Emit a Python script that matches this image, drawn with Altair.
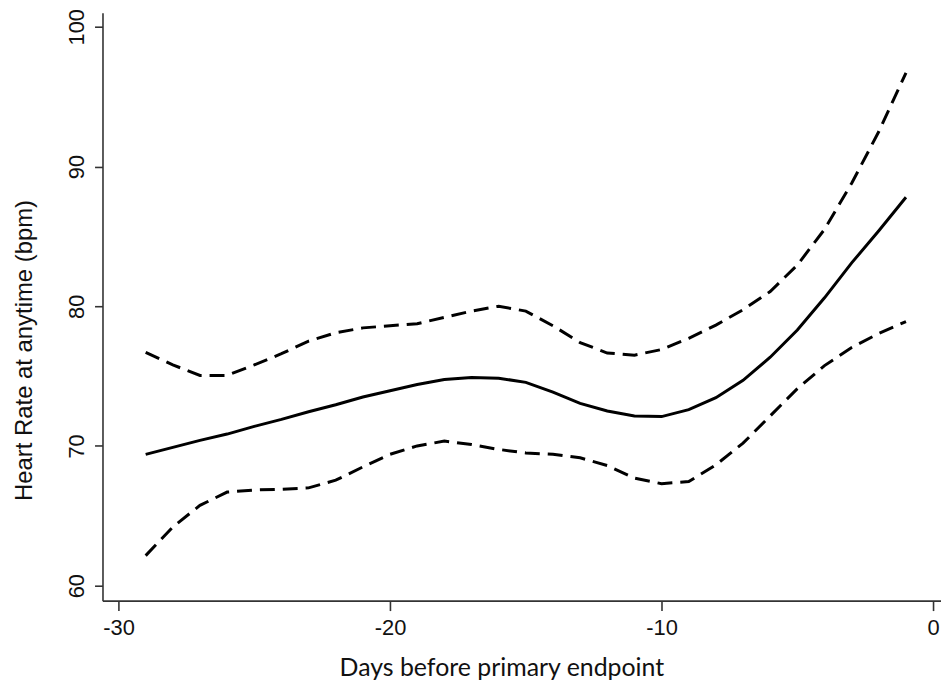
import altair as alt
import pandas as pd

days = list(range(-29, 0))
hr_mean = [69.4, 69.9, 70.4, 70.85, 71.4, 71.9, 72.45, 72.95, 73.5, 73.95,
           74.4, 74.75, 74.9, 74.85, 74.55, 73.85, 73.05, 72.5, 72.15, 72.1,
           72.6, 73.45, 74.7, 76.35, 78.3, 80.6, 83.1, 85.4, 87.8]
hr_upper = [76.7, 75.8, 75.05, 75.05, 75.8, 76.6, 77.5, 78.1, 78.45, 78.6,
            78.75, 79.2, 79.65, 80.0, 79.65, 78.6, 77.4, 76.65, 76.5, 76.9,
            77.7, 78.65, 79.75, 81.05, 82.95, 85.5, 88.8, 92.5, 96.7]
hr_lower = [62.15, 64.2, 65.75, 66.7, 66.85, 66.9, 67.0, 67.55, 68.5, 69.4,
            70.0, 70.35, 70.1, 69.75, 69.5, 69.4, 69.15, 68.6, 67.7, 67.3,
            67.45, 68.65, 70.2, 72.15, 74.1, 75.75, 77.05, 78.05, 78.9]

x_ticks = [-30, -20, -10, 0]
y_ticks = [60, 70, 80, 90, 100]

df = pd.DataFrame({"day": days, "mean": hr_mean, "upper": hr_upper, "lower": hr_lower})

hyphen_expr = "datum.value < 0 ? '-' + abs(datum.value) : '' + datum.value"

x_enc = alt.X("day:Q",
              scale=alt.Scale(domain=[-30.59, 0.29], nice=False, zero=False),
              axis=alt.Axis(values=x_ticks, title="Days before primary endpoint",
                            labelExpr=hyphen_expr,
                            grid=False, tickSize=10, labelPadding=7,
                            labelFont="Liberation Sans", labelFontSize=22,
                            labelColor="#111111", labelBaseline="top",
                            titleFont="Lato", titleFontSize=25,
                            titleFontWeight="normal", titleColor="#111111",
                            titleX=401, titleY=75, titleAlign="center",
                            titleBaseline="alphabetic",
                            domainColor="#333333", domainWidth=1.6,
                            tickColor="#333333", tickWidth=1.6))

def y_enc(field):
    return alt.Y(f"{field}:Q",
                 scale=alt.Scale(domain=[58.93, 101.0], nice=False, zero=False),
                 axis=alt.Axis(values=y_ticks, title="Heart Rate at anytime (bpm)",
                               grid=False, tickSize=8, labelPadding=11,
                               labelAngle=270, labelAlign="center",
                               labelBaseline="alphabetic",
                               labelFont="Liberation Sans", labelFontSize=22,
                               labelColor="#111111",
                               titleFont="Liberation Sans", titleFontSize=24,
                               titleFontWeight="normal", titleColor="#111111",
                               titleAngle=270, titleX=-71, titleY=339,
                               titleAlign="center", titleBaseline="alphabetic",
                               domainColor="#333333", domainWidth=1.6,
                               tickColor="#333333", tickWidth=1.6))

base = alt.Chart(df)
mean_line = base.mark_line(color="black", strokeWidth=3).encode(x=x_enc, y=y_enc("mean"))
upper_line = base.mark_line(color="black", strokeWidth=3, strokeDash=[15, 8]).encode(x=x_enc, y=y_enc("upper"))
lower_line = base.mark_line(color="black", strokeWidth=3, strokeDash=[15, 8]).encode(x=x_enc, y=y_enc("lower"))

chart = alt.layer(upper_line, mean_line, lower_line).properties(
    width=843, height=591,
    autosize=alt.AutoSizeParams(type="none"),
    padding={"left": 95, "top": 3, "right": 0, "bottom": 80},
    background="white",
).configure_view(stroke=None)

chart.save("out.html", embed_options={"renderer": "svg", "actions": False})
